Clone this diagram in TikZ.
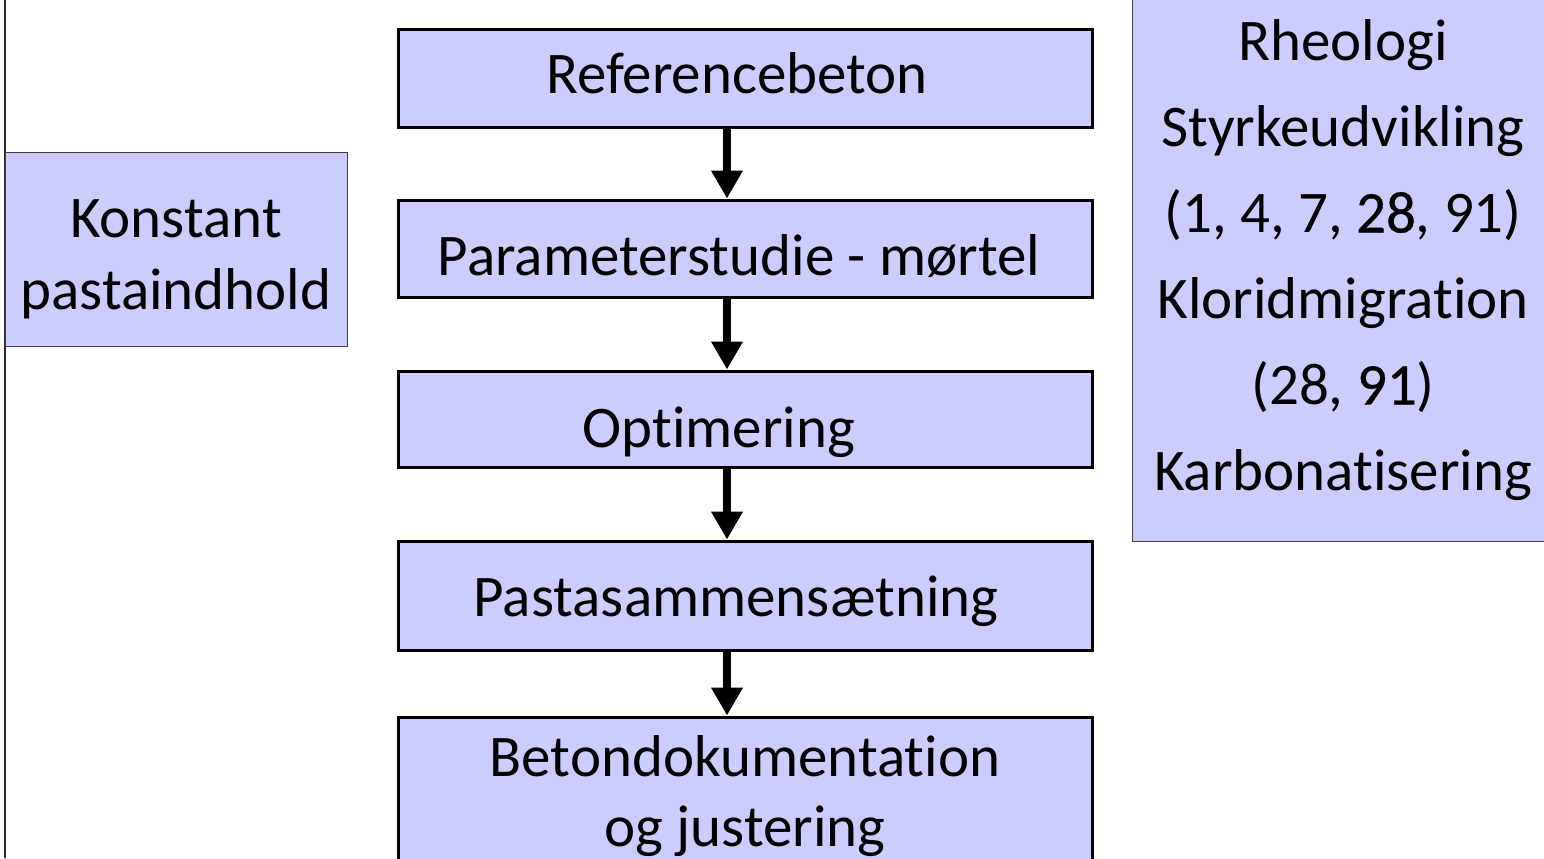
\documentclass[tikz,border=0pt]{standalone}
\usepackage{fontspec}
\setmainfont{Carlito}[Ligatures=NoCommon]
\newfontfamily\heavy[FakeBold=0.6, Ligatures=NoCommon]{Carlito}
\usetikzlibrary{arrows.meta, positioning, calc}
\definecolor{boxfill}{RGB}{204,204,255}
% move a label inside its box without changing the box
\newcommand{\nudge}[3]{\raisebox{#2}[\height][\depth]{\hspace*{#1}#3\hspace*{-#1}}}

\begin{document}
\begin{tikzpicture}[x=0.5pt, y=-0.5pt,
    stage/.style={draw=black, line width=1.5pt, fill=boxfill, minimum width=347pt,
      inner sep=0pt, align=center, font=\fontsize{29.5}{35}\selectfont},
    note/.style={draw=black!75, line width=0.5pt, fill=boxfill, inner sep=0pt,
      align=center, font=\fontsize{29.5}{43}\selectfont},
    flow/.style={-{Triangle[length=14pt, width=15pt]}, line width=4pt}]
  \useasboundingbox (0,0) rectangle (1544,858);
  % frame edge on the left
  \coordinate (edgetop) at (5,0);
  \coordinate (edgebot) at (5,858);
  \draw[line width=0.8pt, black!85] (edgetop) -- (edgebot);
  % main chain
  \node[stage, minimum height=49pt] (ref) at (745,78) {\nudge{-4pt}{2.5pt}{Referencebeton}};
  \node[stage, minimum height=48.5pt] (param) at (745,248.5) {\nudge{-3pt}{-4pt}{Parameterstudie - mørtel}};
  \node[stage, minimum height=48pt] (optim) at (745,419) {\nudge{-13pt}{-6.5pt}{Optimering}};
  \node[stage, minimum height=54.5pt] (pasta) at (745,595.5) {\nudge{-4.5pt}{-3pt}{Pastasammensætning}};
  \node[stage, minimum height=79pt] (doku) at (745,796) {Betondokumentation\\og justering};
  % arrows between the stages
  \foreach \a/\b in {ref/param, param/optim, optim/pasta, pasta/doku}
    \draw[flow] ([xshift=-9pt]\a.south) -- ([xshift=-9pt]\b.north);
  % side boxes
  \node[note, minimum width=171pt, minimum height=97pt] (konst) at (176,249) {};
  \node[note, draw=none, fill=none, font=\fontsize{29.5}{36}\selectfont] (konsttxt)
    at ([yshift=-5pt]konst.center) {Konstant\\pastaindhold};
  \node[note, minimum width=211pt, minimum height=281pt] (props) at (1343,260)
    {Rheologi\\Styrkeudvikling\\(1, 4, 7, {\heavy 28}, 91)\\Kloridmigration\\(28, {\heavy 91})\\Karbonatisering};
\end{tikzpicture}
\end{document}
